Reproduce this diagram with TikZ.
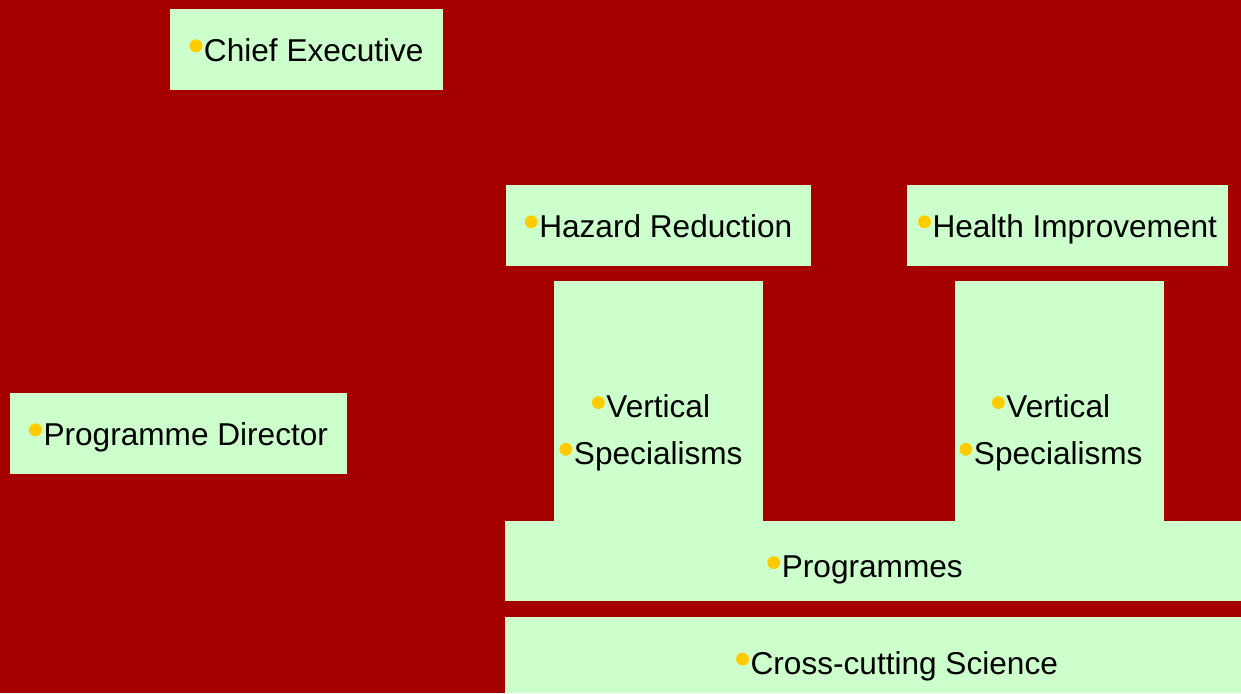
\documentclass[tikz,border=0pt]{standalone}
\usepackage{fontspec}
\setmainfont{Liberation Sans}
\usetikzlibrary{positioning}

\definecolor{bgred}{HTML}{A50000}
\definecolor{boxgreen}{HTML}{CCFFCC}
\definecolor{dotgold}{HTML}{FFCC00}

% small gold bullet set before each entry
\newcommand{\dotmark}{\tikz[baseline=0pt]\fill[dotgold] (0.205em,0.48em) circle (0.205em);\hspace{0.05em}}

\begin{document}
\begin{tikzpicture}[
  x=0.5pt, y=-0.5pt,
  box/.style={fill=boxgreen, draw=none, inner sep=0pt, outer sep=0pt, minimum height=40.5pt},
  lbl/.style={anchor=base, inner sep=0pt, font=\fontsize{15.8}{19}\selectfont}
]
% background
\fill[bgred] (0,0) rectangle (1241,693);
\useasboundingbox (0,0) rectangle (1241,693);

% Boxes
\node[box, minimum width=136.5pt] (chief) at (306.5,49.5) {};
\node[box, minimum width=152.5pt] (hazard) at (658.5,225.5) {};
\node[box, minimum width=160.5pt] (health) at (1067.5,225.5) {};
\node[box, minimum width=168.5pt] (director) at (178.5,433.5) {};
\node[box, minimum width=104.5pt, minimum height=120pt] (vert1) at (658.5,401) {};
\node[box, minimum width=104.5pt, minimum height=120pt] (vert2) at (1059.5,401) {};
\node[box, minimum width=368pt, minimum height=40pt] (prog) at (873,561) {};
\node[box, minimum width=368pt, minimum height=38pt] (cross) at (873,655) {};

% Labels
\node[lbl] (chieftxt) at (306.5,61) {\dotmark Chief Executive};
\node[lbl] (hazardtxt) at (658.5,237) {\dotmark Hazard Reduction};
\node[lbl] (healthtxt) at (1067.5,237) {\dotmark Health Improvement};
\node[lbl] (directortxt) at (178.5,445) {\dotmark Programme Director};
\node[lbl] (vert1a) at (651,417.7) {\dotmark Vertical};
\node[lbl] (vert1b) at (651,464.4) {\dotmark Specialisms};
\node[lbl] (vert2a) at (1051,417.7) {\dotmark Vertical};
\node[lbl] (vert2b) at (1051,464.4) {\dotmark Specialisms};
\node[lbl] (progtxt) at (865,577.7) {\dotmark Programmes};
\node[lbl] (crosstxt) at (897,674.3) {\dotmark Cross-cutting Science};
\end{tikzpicture}
\end{document}
